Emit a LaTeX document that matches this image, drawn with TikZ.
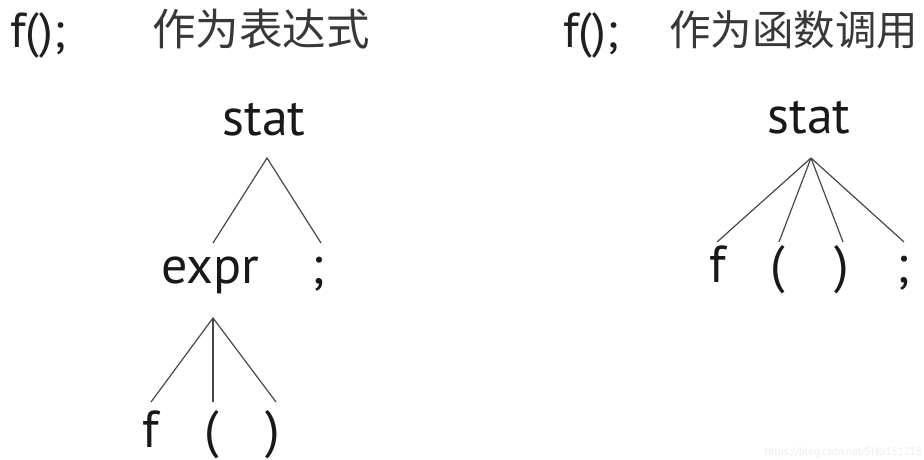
\documentclass[tikz,border=0pt]{standalone}
\usepackage{fontspec}
\setmainfont{PT Sans}
\newfontfamily\cjk{Noto Sans CJK SC}
\begin{document}
\begin{tikzpicture}[x=1pt,y=-1pt,
  lbl/.style={inner sep=0pt,anchor=base,font=\fontsize{52}{56}\selectfont,text=black!90},
  head/.style={inner sep=0pt,anchor=base west,font=\fontsize{49}{52}\selectfont,text=black!88},
  cn/.style={inner sep=0pt,anchor=base west,font=\cjk\fontsize{43.5}{46}\selectfont,text=black!78},
  edge/.style={draw=black!72,line width=1.2pt}]
\useasboundingbox (0,0) rectangle (924,460);
% headers
\node[head] (h1) at (10,48) {f();};
\node[cn] (c1) at (152,46) {作为表达式};
\node[head] (h2) at (563,48) {f();};
\node[cn,font=\cjk\fontsize{41.5}{44}\selectfont] (c2) at (669,46) {作为函数调用};
% left tree
\node[lbl] (stat1) at (264,135) {stat};
\node[lbl] (expr) at (210,283) {expr};
\node[lbl] (semi1) at (318,283) {;};
\node[lbl] (f1) at (151,447) {f};
\node[lbl] (lp1) at (212,447) {(};
\node[lbl] (rp1) at (273,447) {)};
\coordinate (stat1a) at (267,158);
\coordinate (expra) at (213,243);
\coordinate (semi1a) at (321,243);
\coordinate (exprb) at (213,318);
\coordinate (f1a) at (151,402);
\coordinate (lp1a) at (213,402);
\coordinate (rp1a) at (276,402);
\draw[edge] (expra) -- (stat1a) -- (semi1a);
\draw[edge] (f1a) -- (exprb) -- (rp1a);
\draw[edge] (exprb) -- (lp1a);
% right tree
\node[lbl] (stat2) at (809,133) {stat};
\node[lbl] (f2) at (718,282) {f};
\node[lbl] (lp2) at (778,282) {(};
\node[lbl] (rp2) at (842,282) {)};
\node[lbl] (semi2) at (903,282) {;};
\coordinate (stat2a) at (811,158);
\coordinate (f2a) at (717,242);
\coordinate (lp2a) at (779,242);
\coordinate (rp2a) at (843,242);
\coordinate (semi2a) at (904,242);
\foreach \c in {f2a,lp2a,rp2a,semi2a} \draw[edge] (stat2a) -- (\c);
% watermark
\node[inner sep=0pt,anchor=base east,font=\fontsize{11}{12}\selectfont,text=black!8] (wm) at (922,455) {https://blog.csdn.net/SHU151218};
\end{tikzpicture}
\end{document}
